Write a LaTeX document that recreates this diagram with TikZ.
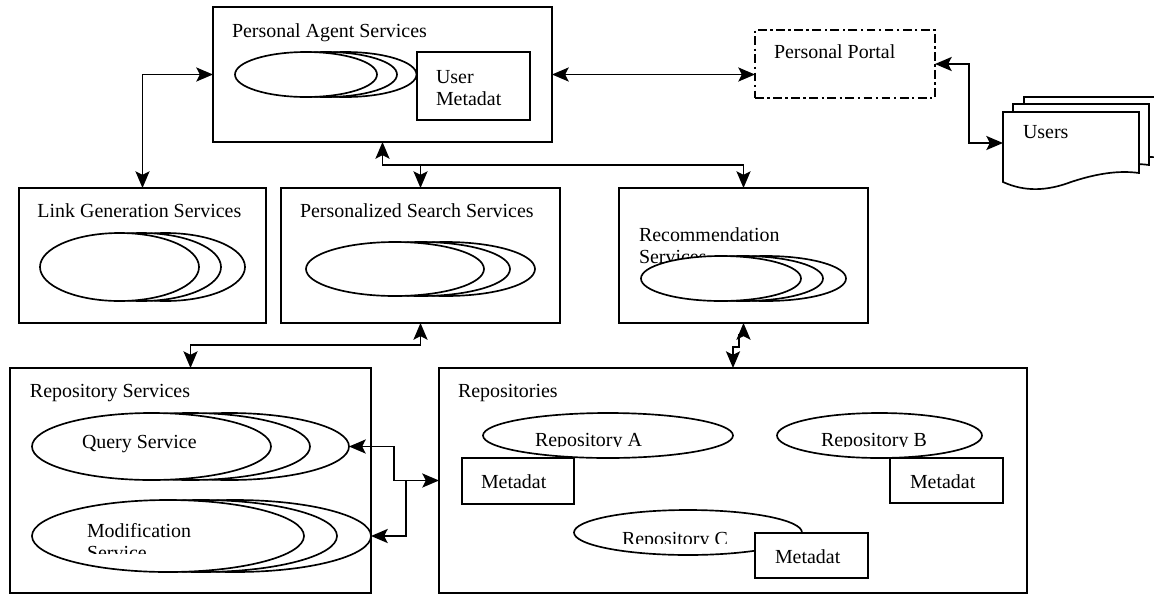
\documentclass[tikz,border=0pt]{standalone}
\usepackage{fontspec}
\setmainfont{Liberation Serif}
\usetikzlibrary{shapes.geometric,arrows.meta,fit}
\newdimen\px \px=0.02cm
\begin{document}
\begin{tikzpicture}[x=0.02cm,y=-0.02cm,
  every node/.style={font=\fontsize{11.35}{13}\selectfont, inner sep=0pt, outer sep=0pt},
  box/.style={draw, line width=1.15pt, fill=white, inner sep=0pt, outer sep=0pt},
  portalbox/.style={draw, line width=0.9pt, inner sep=0pt, outer sep=0pt, dash pattern=on 5pt off 2pt on 1.3pt off 2pt},
  ell/.style={draw, ellipse, line width=0.95pt, fill=white, inner sep=0pt, outer sep=0pt},
  lbl/.style={anchor=base west},
  doc/.style={draw, line width=0.95pt, fill=white},
  conn/.style={line width=1pt},
  >={Stealth[length=9.5pt,width=8pt,inset=2pt]}
]
\useasboundingbox (0,0) rectangle (1154,596);

% ---------- main boxes ----------
\node[box, fit={(213,7) (552,142)}] (pas) {};
\node[portalbox, fit={(755,30) (935,98)}] (portal) {};
\node[box, fit={(19,188) (266,323)}] (lgs) {};
\node[box, fit={(281,188) (560,323)}] (pss) {};
\node[box, fit={(619,188) (868,323)}] (rec) {};
\node[box, fit={(10,368) (371,593)}] (rs) {};
\node[box, fit={(439,368) (1027,593)}] (repos) {};

% ---------- titles ----------
\node[lbl] (tpas) at (232,37) {Personal Agent Services};
\node[lbl] (tportal) at (774,58) {Personal Portal};
\node[lbl] (tlgs) at (37.5,217) {Link Generation Services};
\node[lbl] (tpss) at (300,217) {Personalized Search Services};
\node[lbl] (trec1) at (639,241) {Recommendation};
\node[lbl] (trec2) at (639,263) {Services};
\node[lbl] (trs) at (30,397) {Repository Services};
\node[lbl] (trepos) at (458,397) {Repositories};

% ---------- Personal Agent ellipses ----------
\node[ell, minimum width=142\px, minimum height=45\px] (pa3) at (345.5,74.5) {};
\node[ell, minimum width=142\px, minimum height=45\px] (pa2) at (326,74.5) {};
\node[ell, minimum width=142\px, minimum height=45\px] (pa1) at (306,74.5) {};
\node[box, fit={(417,52) (530,120)}] (umeta) {};
\node[lbl] (um1) at (436,83) {User};
\node[lbl] (um2) at (436,105) {Metadat};

% ---------- Link generation ellipses ----------
\node[ell, minimum width=159\px, minimum height=68\px] (lg3) at (165.5,267) {};
\node[ell, minimum width=159\px, minimum height=68\px] (lg2) at (141.5,267) {};
\node[ell, minimum width=159\px, minimum height=68\px] (lg1) at (119.5,267) {};

% ---------- Personalized search ellipses ----------
\node[ell, minimum width=178\px, minimum height=54\px] (ps3) at (446,269) {};
\node[ell, minimum width=178\px, minimum height=54\px] (ps2) at (421,269) {};
\node[ell, minimum width=178\px, minimum height=54\px] (ps1) at (395,269) {};

% ---------- Recommendation ellipses ----------
\node[ell, minimum width=160\px, minimum height=45\px] (re3) at (766,278.5) {};
\node[ell, minimum width=160\px, minimum height=45\px] (re2) at (743,278.5) {};
\node[ell, minimum width=160\px, minimum height=45\px] (re1) at (721,278.5) {};

% ---------- Query service ellipses ----------
\node[ell, minimum width=239\px, minimum height=67\px] (q3) at (229.5,446.5) {};
\node[ell, minimum width=239\px, minimum height=67\px] (q2) at (190.5,446.5) {};
\node[ell, minimum width=239\px, minimum height=67\px] (q1) at (151.5,446.5) {};
\node[lbl] (tq) at (82,448) {Query Service};

% ---------- Modification service ellipses ----------
\node[ell, minimum width=272\px, minimum height=72\px] (m3) at (235,536) {};
\node[ell, minimum width=272\px, minimum height=72\px] (m2) at (201,536) {};
\node[ell, minimum width=272\px, minimum height=72\px] (m1) at (168,536) {};
\node[lbl] (tm1) at (87,537) {Modification};
\begin{scope}
  \clip (60,540) rectangle (250,553);
  \node[lbl] (tm2) at (87,559) {Service};
\end{scope}

% ---------- Repositories ----------
\node[ell, minimum width=250\px, minimum height=45\px] (ra) at (608,435.5) {};
\node[ell, minimum width=205\px, minimum height=45\px] (rb) at (879.5,435.5) {};
\node[ell, minimum width=228\px, minimum height=45\px] (rc) at (688,532.5) {};
\begin{scope}
  \clip (500,420) rectangle (720,446.5);
  \node[lbl] (tra) at (535,446.5) {Repository A};
\end{scope}
\begin{scope}
  \clip (790,420) rectangle (970,446.5);
  \node[lbl] (trb) at (821,446.5) {Repository B};
\end{scope}
\begin{scope}
  \clip (590,520) rectangle (754,543);
  \node[lbl] (trc) at (622,545) {Repository C};
\end{scope}
\node[box, fit={(462,458) (574,504)}] (mda) {};
\node[lbl] (tmda) at (481,488) {Metadat};
\node[box, fit={(890,458) (1003,503)}] (mdb) {};
\node[lbl] (tmdb) at (910,488) {Metadat};
\node[box, fit={(755,533) (868,578)}] (mdc) {};
\node[lbl] (tmdc) at (775,563) {Metadat};

% ---------- Users documents ----------
\begin{scope}
  \clip (0,0) rectangle (1154,596);
  \draw[doc, shift={(21,-15)}] (1003,112) -- (1145,112) -- (1145,173) .. controls (1118,170) and (1095,174) .. (1071,182) .. controls (1047,191) and (1025,192) .. (1003,182) -- cycle;
  \draw[doc, shift={(10,-8)}] (1003,112) -- (1139,112) -- (1139,173) .. controls (1118,170) and (1095,174) .. (1071,182) .. controls (1047,191) and (1025,192) .. (1003,182) -- cycle;
  \draw[doc] (1003,112) -- (1139,112) -- (1139,173) .. controls (1118,170) and (1095,174) .. (1071,182) .. controls (1047,191) and (1025,192) .. (1003,182) -- cycle;
\end{scope}
\node[lbl] (users) at (1023,138) {Users};
\coordinate (usersin) at (1003,143);

% ---------- connectors ----------
\coordinate (jt) at (0,165);
\coordinate (jm) at (0,345);
\coordinate (jp) at (969,143);
\coordinate (jq) at (406,0);

\draw[conn,<->] (pas.west) -| (lgs.north);
\draw[conn,<->] (pas.east) -- (pas.east -| portal.west);
\draw[conn,<->] (portal.east) -| (jp) -- (usersin);
\draw[conn,<->] (pas.south) -- (pas.south |- jt) -- (rec.north |- jt) -- (rec.north);
\draw[conn,->] (pss.north |- jt) -- (pss.north);
\draw[conn,<->] (pss.south) -- (pss.south |- jm) -| (rs.north);
\draw[conn,<->] (rec.south) -- ++(0,12) -- ++(-4.5,0) -- ++(0,12) -| (repos.north);
\draw[conn,<->] (q3.east) -- ++(45,0) |- (repos.west);
\draw[conn,<-] (m3.east) -| (jq |- repos.west);
\end{tikzpicture}
\end{document}
